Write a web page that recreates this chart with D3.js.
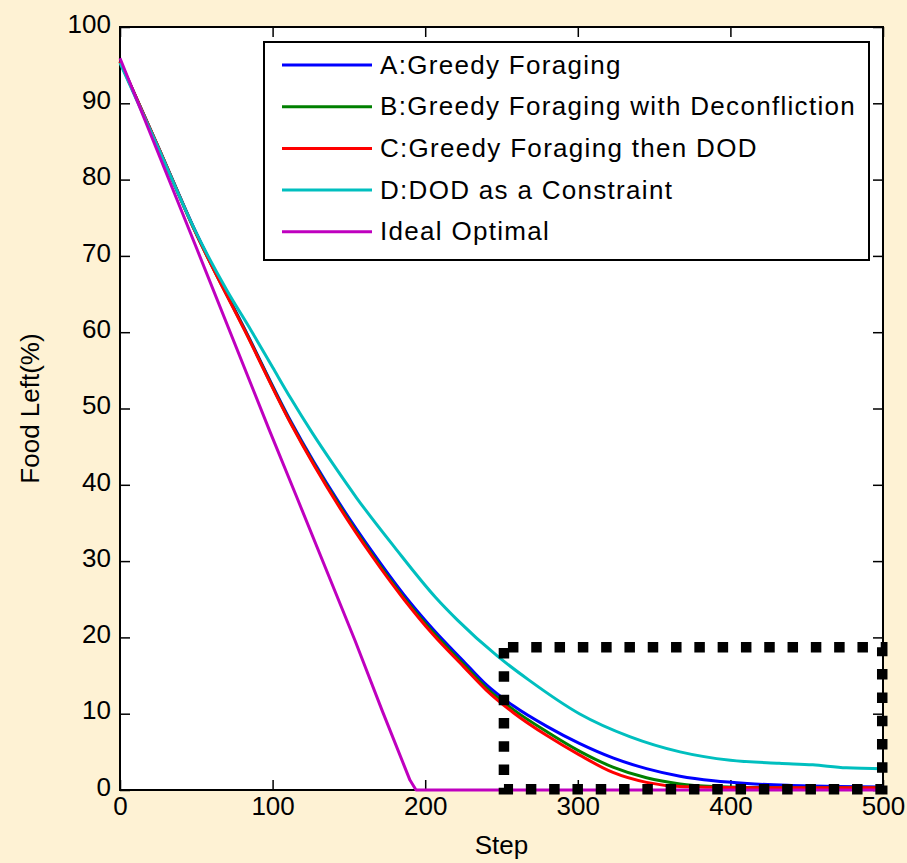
<!DOCTYPE html>
<html>
<head>
<meta charset="utf-8">
<script src="https://cdn.jsdelivr.net/npm/d3@7"></script>
<style>
  body { margin: 0; background: #fef2d4; }
  svg { display: block; font-family: "Liberation Sans", Arial, sans-serif; }
</style>
</head>
<body>
<div id="chart"></div>
<script>
// Food left over time for the foraging strategies

const stepsABC = [0, 25, 49, 82, 112, 144, 165, 186, 205, 225, 240, 258, 280, 301, 323, 345, 367, 389, 411, 440, 470, 500];
const greedy      = [95.5, 84.3, 73.4, 60.3, 48.3, 37.5, 31.3, 25.6, 21.1, 16.9, 13.8, 11.0, 8.3, 6.1, 4.2, 2.8, 1.8, 1.2, 0.85, 0.6, 0.45, 0.4];
const deconflict  = [95.5, 84.3, 73.3, 60.2, 48.1, 37.2, 30.9, 25.2, 20.7, 16.5, 13.4, 10.5, 7.6, 5.1, 3.0, 1.6, 0.8, 0.45, 0.33, 0.3, 0.3, 0.3];
const greedyDod   = [95.5, 84.3, 73.3, 60.1, 48.0, 37.0, 30.7, 25.0, 20.4, 16.2, 13.1, 10.1, 7.1, 4.6, 2.3, 1.0, 0.45, 0.35, 0.3, 0.3, 0.3, 0.3];

// D: DOD as a constraint
const stepsD = [0, 25, 49, 70, 86, 100, 112, 126, 140, 155, 180, 207, 221, 247, 268, 301, 334, 367, 400, 432, 454, 476, 500];
const dodConstraint = [95.3, 84.2, 73.4, 65.5, 60.2, 55.4, 51.3, 46.8, 42.6, 38.3, 31.8, 25.2, 22.3, 17.6, 14.4, 10.0, 7.0, 5.0, 3.9, 3.5, 3.3, 2.9, 2.8];

// Ideal optimal
const stepsIdeal = [0, 50, 98, 116, 154, 172, 186, 190, 194, 500];
const ideal = [95.9, 71.1, 47.1, 38.3, 19.6, 10.3, 3.3, 1.3, 0, 0];

const seriesNames = ["A:Greedy Foraging", "B:Greedy Foraging with Deconfliction",
  "C:Greedy Foraging then DOD", "D:DOD as a Constraint", "Ideal Optimal"];
const seriesColors = ["#0000ff", "#008000", "#ff0000", "#00bfbf", "#bf00bf"];

// zoom box drawn on the chart (data coords)
const boxSteps = [251.6, 499.5];
const boxFood = [0.1, 18.7];

const xTicks = [0, 100, 200, 300, 400, 500];
const yTicks = [0, 10, 20, 30, 40, 50, 60, 70, 80, 90, 100];

const W = 907, H = 863;
const margin = { top: 27, right: 24, bottom: 73, left: 120 };
const width = W - margin.left - margin.right;
const height = H - margin.top - margin.bottom;

const svg = d3.select("#chart").append("svg")
    .attr("width", W)
    .attr("height", H);

const g = svg.append("g")
    .attr("transform", `translate(${margin.left},${margin.top})`);

const x = d3.scaleLinear().domain([0, 500]).range([0, width]);
const y = d3.scaleLinear().domain([0, 100]).range([height, 0]);

// white plot area
g.append("rect")
    .attr("width", width)
    .attr("height", height)
    .attr("fill", "#fff");

// ticks on all four sides, pointing inward
const tickLen = 10;
const xAxis = g.append("g").attr("transform", `translate(0,${height})`)
    .call(d3.axisBottom(x).tickValues(xTicks).tickSize(-tickLen).tickPadding(7))
    .call(a => a.select(".domain").remove());
g.append("g")
    .call(d3.axisTop(x).tickValues(xTicks).tickSize(-tickLen).tickFormat(""))
    .call(a => a.select(".domain").remove());
const yAxis = g.append("g")
    .call(d3.axisLeft(y).tickValues(yTicks).tickSize(-tickLen).tickPadding(9))
    .call(a => a.select(".domain").remove());
g.append("g").attr("transform", `translate(${width},0)`)
    .call(d3.axisRight(y).tickValues(yTicks).tickSize(-tickLen).tickFormat(""))
    .call(a => a.select(".domain").remove());

g.selectAll(".tick line").attr("stroke", "#000").attr("stroke-width", 1.5);
g.selectAll(".tick text")
    .attr("font-size", 26)
    .attr("font-family", "Liberation Sans, Arial, sans-serif")
    .attr("fill", "#000");
yAxis.selectAll(".tick text").attr("dy", "0.2em");

// frame
g.append("rect")
    .attr("width", width)
    .attr("height", height)
    .attr("fill", "none")
    .attr("stroke", "#000")
    .attr("stroke-width", 2);

// curves
const series = [
  { steps: stepsABC, vals: greedy },
  { steps: stepsABC, vals: deconflict },
  { steps: stepsABC, vals: greedyDod },
  { steps: stepsD, vals: dodConstraint },
  { steps: stepsIdeal, vals: ideal }
];

series.forEach((s, i) => {
  const pts = s.steps.map((st, j) => [st, s.vals[j]]);
  const line = d3.line()
      .x(d => x(d[0]))
      .y(d => y(d[1]))
      .curve(i === 4 ? d3.curveLinear : d3.curveMonotoneX);
  g.append("path")
      .datum(pts)
      .attr("d", line)
      .attr("fill", "none")
      .attr("stroke", seriesColors[i])
      .attr("stroke-width", 3)
      .attr("stroke-linejoin", "round");
});

// dotted zoom box
const boxPts = [[boxSteps[0], boxFood[1]], [boxSteps[1], boxFood[1]],
  [boxSteps[1], boxFood[0]], [boxSteps[0], boxFood[0]], [boxSteps[0], boxFood[1]]];
g.append("path")
    .attr("d", d3.line().x(d => x(d[0])).y(d => y(d[1]))(boxPts))
    .attr("fill", "none")
    .attr("stroke", "#000")
    .attr("stroke-width", 10.5)
    .attr("stroke-dasharray", "10.5,12.8")
    .attr("stroke-dashoffset", -4);

// legend
const legend = svg.append("g").attr("transform", "translate(264,42)");
legend.append("rect")
    .attr("width", 605)
    .attr("height", 218)
    .attr("fill", "#fff")
    .attr("stroke", "#000")
    .attr("stroke-width", 2);

seriesNames.forEach((name, i) => {
  const ly = 23 + i * 41.7;
  legend.append("line")
      .attr("x1", 18).attr("x2", 108)
      .attr("y1", ly).attr("y2", ly)
      .attr("stroke", seriesColors[i])
      .attr("stroke-width", 3);
  legend.append("text")
      .attr("x", 116)
      .attr("y", ly)
      .attr("dy", "0.33em")
      .attr("font-size", 26)
      .attr("letter-spacing", "1.3px")
      .text(name);
});

// axis titles
svg.append("text")
    .attr("x", margin.left + width / 2)
    .attr("y", 854)
    .attr("text-anchor", "middle")
    .attr("font-size", 26)
    .text("Step");

svg.append("text")
    .attr("transform", `translate(39,${margin.top + height / 2}) rotate(-90)`)
    .attr("text-anchor", "middle")
    .attr("font-size", 26)
    .text("Food Left(%)");
</script>
</body>
</html>
